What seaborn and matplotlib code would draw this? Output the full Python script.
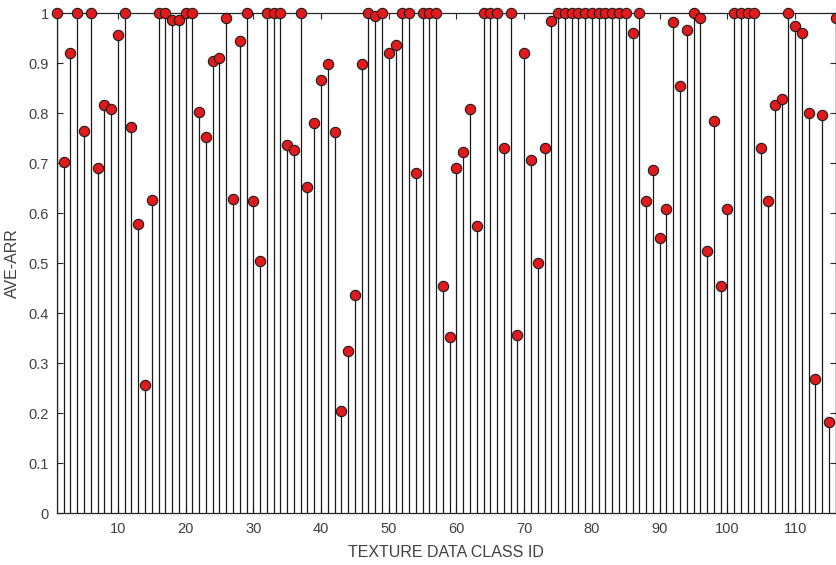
import numpy as np
import pandas as pd
import matplotlib
matplotlib.use("Agg")
import matplotlib.pyplot as plt
import seaborn as sns

# class ids 1..116 and their AVE-ARR values
class_ids = list(range(1, 117))
ave_arr = [
    1.000, 0.703, 0.920, 1.000, 0.765, 1.000, 0.691, 0.816, 0.809, 0.956,
    1.000, 0.773, 0.579, 0.256, 0.626, 1.000, 1.000, 0.987, 0.987, 1.000,
    1.000, 0.803, 0.753, 0.905, 0.910, 0.991, 0.629, 0.945, 1.000, 0.625,
    0.505, 1.000, 1.000, 1.000, 0.737, 0.727, 1.000, 0.653, 0.781, 0.867,
    0.898, 0.762, 0.205, 0.325, 0.436, 0.898, 1.000, 0.994, 1.000, 0.920,
    0.937, 1.000, 1.000, 0.681, 1.000, 1.000, 1.000, 0.455, 0.353, 0.691,
    0.723, 0.809, 0.575, 1.000, 1.000, 1.000, 0.731, 1.000, 0.357, 0.921,
    0.707, 0.501, 0.731, 0.985, 1.000, 1.000, 1.000, 1.000, 1.000, 1.000,
    1.000, 1.000, 1.000, 1.000, 1.000, 0.960, 1.000, 0.625, 0.687, 0.551,
    0.609, 0.983, 0.855, 0.967, 1.000, 0.991, 0.525, 0.785, 0.455, 0.609,
    1.000, 1.000, 1.000, 1.000, 0.731, 0.625, 0.816, 0.828, 1.000, 0.975,
    0.960, 0.800, 0.268, 0.797, 0.182, 0.991,
]
y_ticks = [0, 0.1, 0.2, 0.3, 0.4, 0.5, 0.6, 0.7, 0.8, 0.9, 1]
y_tick_labels = ["0", "0.1", "0.2", "0.3", "0.4", "0.5", "0.6", "0.7", "0.8", "0.9", "1"]
x_ticks = [10, 20, 30, 40, 50, 60, 70, 80, 90, 100, 110]

df = pd.DataFrame({"ClassID": class_ids, "AVE-ARR": ave_arr})

sns.set_theme(style="ticks")
plt.rcParams['font.family'] = ['Liberation Sans', 'DejaVu Sans']

fig = plt.figure(figsize=(8.37, 5.65), dpi=100)
ax = fig.add_axes([0.068, 0.0915, 0.9305, 0.885])

# stems
ax.vlines(df["ClassID"], 0, df["AVE-ARR"], color="#1a1a1a", linewidth=0.9, zorder=2)
# markers
sns.scatterplot(data=df, x="ClassID", y="AVE-ARR", ax=ax, s=55,
                color="#e31a1c", edgecolor="#1a1a1a", linewidth=0.8,
                zorder=3, clip_on=False, legend=False)

ax.set_xlim(1, 116)
ax.set_ylim(0, 1)
ax.set_xticks(x_ticks)
ax.set_yticks(y_ticks)
ax.set_yticklabels(y_tick_labels)

for side in ["top", "right", "left", "bottom"]:
    ax.spines[side].set_visible(True)
    ax.spines[side].set_color("#262626")
    ax.spines[side].set_linewidth(0.9)

ax.tick_params(direction="in", top=True, right=True, length=4, width=0.8,
               labelsize=10.5, colors="#262626", labelcolor="#404040", pad=6)

ax.set_xlabel("TEXTURE DATA CLASS ID", fontsize=11.5, color="#404040", labelpad=7)
ax.set_ylabel("AVE-ARR", fontsize=11.5, color="#404040", labelpad=6)

fig.savefig("out.png", dpi=100)
